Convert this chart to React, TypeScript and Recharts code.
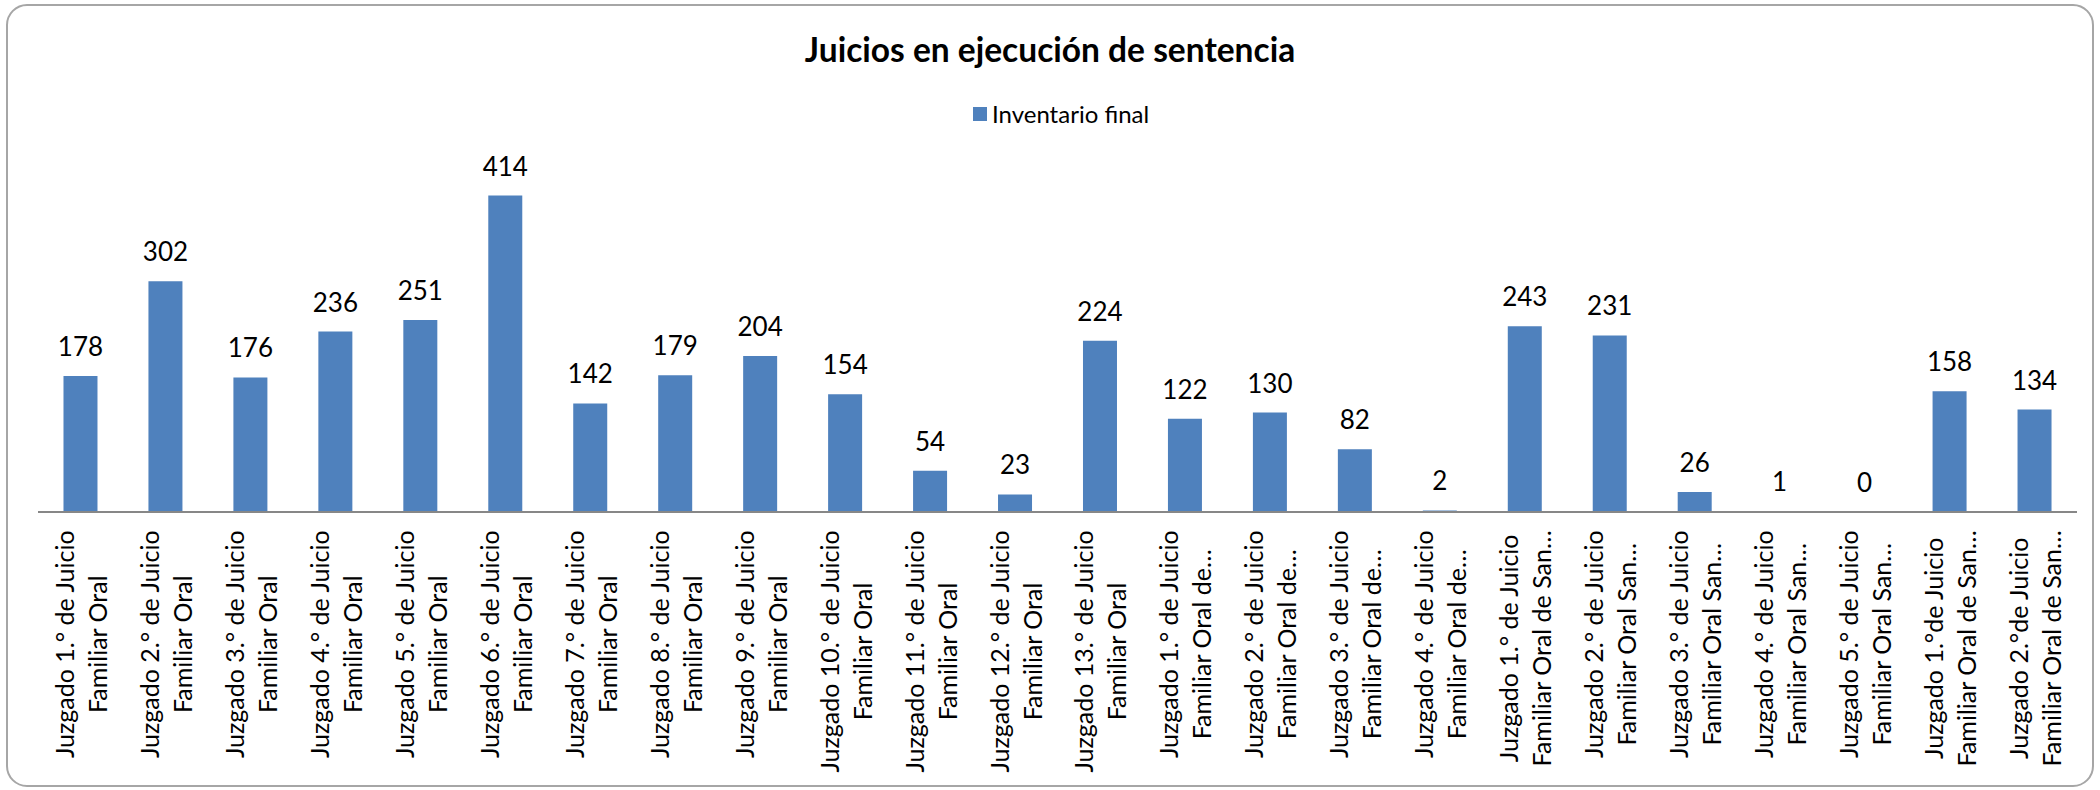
import React from 'react';
import { BarChart, Bar, XAxis, YAxis, LabelList, Legend } from 'recharts';

const chartTitle = 'Juicios en ejecución de sentencia';
const seriesName = 'Inventario final';

const courtLine1 = [
  'Juzgado 1.° de Juicio',
  'Juzgado 2.° de Juicio',
  'Juzgado 3.° de Juicio',
  'Juzgado 4.° de Juicio',
  'Juzgado 5.° de Juicio',
  'Juzgado 6.° de Juicio',
  'Juzgado 7.° de Juicio',
  'Juzgado 8.° de Juicio',
  'Juzgado 9.° de Juicio',
  'Juzgado 10.° de Juicio',
  'Juzgado 11.° de Juicio',
  'Juzgado 12.° de Juicio',
  'Juzgado 13.° de Juicio',
  'Juzgado 1.° de Juicio',
  'Juzgado 2.° de Juicio',
  'Juzgado 3.° de Juicio',
  'Juzgado 4.° de Juicio',
  'Juzgado 1.° de Juicio',
  'Juzgado 2.° de Juicio',
  'Juzgado 3.° de Juicio',
  'Juzgado 4.° de Juicio',
  'Juzgado 5.° de Juicio',
  'Juzgado 1.°de Juicio',
  'Juzgado 2.°de Juicio',
];

const courtLine2 = [
  'Familiar Oral',
  'Familiar Oral',
  'Familiar Oral',
  'Familiar Oral',
  'Familiar Oral',
  'Familiar Oral',
  'Familiar Oral',
  'Familiar Oral',
  'Familiar Oral',
  'Familiar Oral',
  'Familiar Oral',
  'Familiar Oral',
  'Familiar Oral',
  'Familiar Oral de…',
  'Familiar Oral de…',
  'Familiar Oral de…',
  'Familiar Oral de…',
  'Familiar Oral de San…',
  'Familiar Oral San…',
  'Familiar Oral San…',
  'Familiar Oral San…',
  'Familiar Oral San…',
  'Familiar Oral de San…',
  'Familiar Oral de San…',
];

const inventarioFinal = [
  178, 302, 176, 236, 251, 414, 142, 179, 204, 154, 54, 23, 224, 122, 130, 82, 2, 243, 231, 26, 1, 0, 158, 134,
];

const yDomain = [0, 450];

const data = courtLine1.map((l1, i) => ({
  name: l1 + '\n' + courtLine2[i],
  value: inventarioFinal[i],
}));

const FONT = 'Lato, "Open Sans", sans-serif';
const LABEL_FONT_SIZE = 25;
const VALUE_FONT_SIZE = 26;
const BAR_COLOR = '#4F81BD';

let measureCtx: CanvasRenderingContext2D | null = null;
function measureText(t: string): number {
  if (!measureCtx) {
    const c = document.createElement('canvas');
    measureCtx = c.getContext('2d');
  }
  if (!measureCtx) return t.length * LABEL_FONT_SIZE * 0.5;
  measureCtx.font = `${LABEL_FONT_SIZE}px Lato`;
  return measureCtx.measureText(t).width;
}

const CourtTick = (props: any) => {
  const { x, y, payload } = props;
  const lines = String(payload.value).split('\n');
  const maxLen = Math.max(...lines.map(measureText));
  const cy = y + 18 + maxLen / 2;
  const spacing = 33;
  return (
    <g>
      {lines.map((ln, i) => (
        <text
          key={i}
          transform={`translate(${x + (i - (lines.length - 1) / 2) * spacing}, ${cy}) rotate(-90)`}
          textAnchor="middle"
          dominantBaseline="central"
          fontFamily={FONT}
          fontSize={LABEL_FONT_SIZE}
          fill="#000"
        >
          {ln}
        </text>
      ))}
    </g>
  );
};

const ValueLabel = (props: any) => {
  const { x, y, width, value } = props;
  if (value === undefined || value === null) return null;
  return (
    <text
      x={Number(x) + Number(width) / 2}
      y={Number(y) - 20}
      textAnchor="middle"
      fontFamily={FONT}
      fontSize={VALUE_FONT_SIZE}
      fill="#000"
    >
      {value}
    </text>
  );
};

const LegendContent = () => (
  <div style={{ display: 'flex', alignItems: 'center', fontFamily: FONT, fontSize: 24, color: '#000' }}>
    <span style={{ display: 'inline-block', width: 14, height: 14, background: BAR_COLOR, marginRight: 5 }} />
    <span>{seriesName}</span>
  </div>
);

export default function App() {
  return (
    <div style={{ position: 'absolute', left: 0, top: 0, width: 2100, height: 790, background: '#fff' }}>
      <svg width={2100} height={790} style={{ position: 'absolute', left: 0, top: 0 }}>
        <rect x={7} y={5} width={2086} height={781} rx={20} ry={20} fill="#fff" stroke="#a6a6a6" strokeWidth={2} />
        <text x={1050} y={62} textAnchor="middle" fontFamily={FONT} fontWeight="bold" fontSize={33.5} fill="#000">
          {chartTitle}
        </text>
      </svg>
      <div style={{ position: 'absolute', left: 0, top: 0 }}>
        <BarChart
          width={2100}
          height={790}
          data={data}
          margin={{ top: 168, right: 23, bottom: 0, left: 38 }}
          barCategoryGap="30%"
        >
          <XAxis
            dataKey="name"
            interval={0}
            height={278}
            tickLine={false}
            tickSize={0}
            tickMargin={0}
            axisLine={{ stroke: '#878787', strokeWidth: 2 }}
            tick={<CourtTick />}
          />
          <YAxis hide domain={yDomain} />
          <Legend
            layout="horizontal"
            verticalAlign="middle"
            align="center"
            wrapperStyle={{ top: 99, left: 973, width: 300, height: 30 }}
            content={<LegendContent />}
          />
          <Bar
            dataKey="value"
            name={seriesName}
            fill={BAR_COLOR}
            isAnimationActive={false}
            minPointSize={(v: number) => (v === 0 ? 0.01 : 0)}
          >
            <LabelList dataKey="value" content={<ValueLabel />} />
          </Bar>
        </BarChart>
      </div>
    </div>
  );
}
